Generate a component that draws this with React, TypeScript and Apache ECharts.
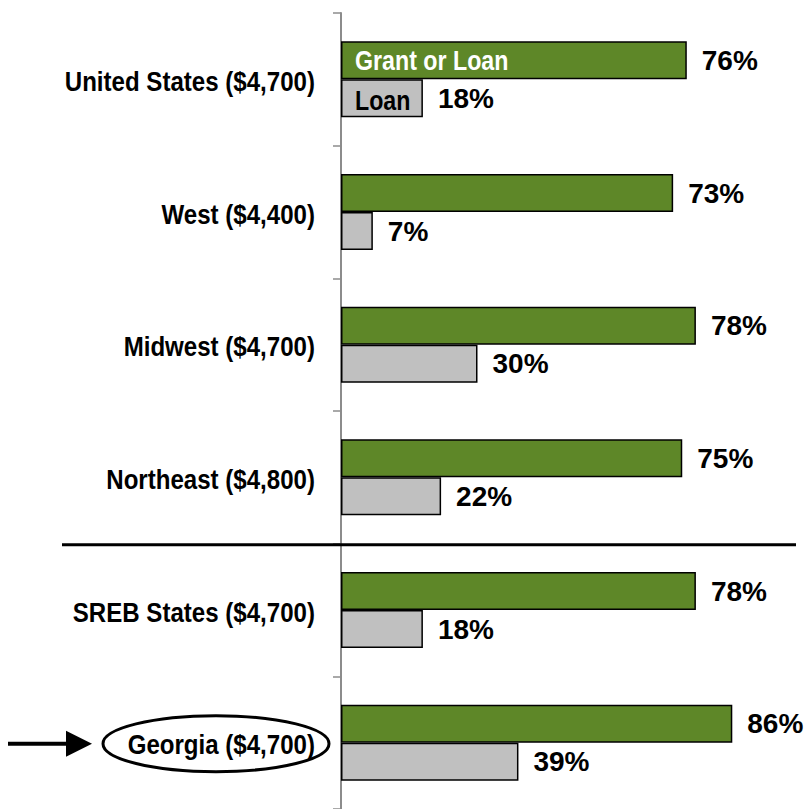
import React, { useEffect, useRef } from "react";
import * as echarts from "echarts";

const categories = [
  "United States ($4,700)",
  "West ($4,400)",
  "Midwest ($4,700)",
  "Northeast ($4,800)",
  "SREB States ($4,700)",
  "Georgia ($4,700)",
];
const grantOrLoan = [76, 73, 78, 75, 78, 86];
const loanOnly = [18, 7, 30, 22, 18, 39];
const seriesNames = ["Grant or Loan", "Loan"];

const SANS = "'Liberation Sans', Arial, sans-serif";
const NARROW_SCALE = 0.86;

export default function App() {
  const ref = useRef<HTMLDivElement>(null);
  useEffect(() => {
    document.body.style.margin = "0";
    const chart = echarts.init(ref.current!, null, { renderer: "svg" });
    const barW = 38;
    const valueLabel = {
      show: true,
      position: "right",
      distance: 15,
      formatter: "{c}%",
      color: "#000",
      fontFamily: SANS,
      fontWeight: "bold",
      fontSize: 28,
    };
    chart.setOption({
      animation: false,
      grid: { left: 341, width: 455, top: 13, height: 798, containLabel: false },
      xAxis: { type: "value", min: 0, max: 100, show: false },
      yAxis: {
        type: "category",
        data: categories,
        inverse: true,
        axisLine: { show: true, lineStyle: { color: "#8c8c8c", width: 2 } },
        axisTick: { show: true, length: 8, lineStyle: { color: "#8c8c8c", width: 1.5 } },
        axisLabel: { show: false },
        splitLine: { show: false },
      },
      series: [
        {
          name: seriesNames[0],
          type: "bar",
          data: grantOrLoan,
          barWidth: barW,
          barGap: "0%",
          itemStyle: { color: "#5e8728", borderColor: "#000", borderWidth: 1.5 },
          label: valueLabel,
        },
        {
          name: seriesNames[1],
          type: "bar",
          data: loanOnly,
          barWidth: barW,
          barGap: "0%",
          itemStyle: { color: "#c0c0c0", borderColor: "#000", borderWidth: 1.5 },
          label: valueLabel,
        },
      ],
    });

    const x0 = chart.convertToPixel({ xAxisIndex: 0 }, 0) as number;
    const xRight = chart.convertToPixel({ xAxisIndex: 0 }, 100) as number;
    const yc = (i: number) => chart.convertToPixel({ yAxisIndex: 0 }, categories[i]) as number;
    const usY = yc(0);
    const sepY = (yc(3) + yc(4)) / 2 + 1;
    const gaY = yc(5) + 1;

    const catLabels = categories.map((c, i) => ({
      type: "text",
      z: 100,
      x: x0 - 26,
      y: yc(i) + 2,
      scaleX: NARROW_SCALE,
      style: {
        text: c,
        fill: "#000",
        fontFamily: SANS,
        fontWeight: "bold",
        fontSize: 28,
        align: "right",
        verticalAlign: "middle",
      },
    }));

    chart.setOption({
      graphic: [
        ...catLabels,
        {
          type: "text",
          z: 100,
          x: x0 + 14,
          y: usY - barW / 2,
          scaleX: 0.86,
          style: {
            text: seriesNames[0],
            fill: "#fff",
            fontFamily: SANS,
            fontWeight: "bold",
            fontSize: 27,
            align: "left",
            verticalAlign: "middle",
          },
        },
        {
          type: "text",
          z: 100,
          x: x0 + 14,
          y: usY + barW / 2 + 2,
          scaleX: 0.86,
          style: {
            text: seriesNames[1],
            fill: "#000",
            fontFamily: SANS,
            fontWeight: "bold",
            fontSize: 27,
            align: "left",
            verticalAlign: "middle",
          },
        },
        {
          type: "line",
          z: 100,
          shape: { x1: 62, y1: sepY, x2: xRight, y2: sepY },
          style: { stroke: "#000", lineWidth: 3 },
        },
        {
          type: "ellipse",
          z: 100,
          shape: { cx: 216, cy: gaY, rx: 113, ry: 28 },
          style: { fill: "none", stroke: "#000", lineWidth: 3 },
        },
        {
          type: "line",
          z: 100,
          shape: { x1: 8, y1: gaY, x2: 72, y2: gaY },
          style: { stroke: "#000", lineWidth: 4 },
        },
        {
          type: "polygon",
          z: 100,
          shape: { points: [[66, gaY - 13], [92, gaY], [66, gaY + 13]] },
          style: { fill: "#000" },
        },
      ],
    });
    return () => chart.dispose();
  }, []);
  return <div ref={ref} style={{ position: "absolute", left: 0, top: 0, width: 808, height: 809 }} />;
}
